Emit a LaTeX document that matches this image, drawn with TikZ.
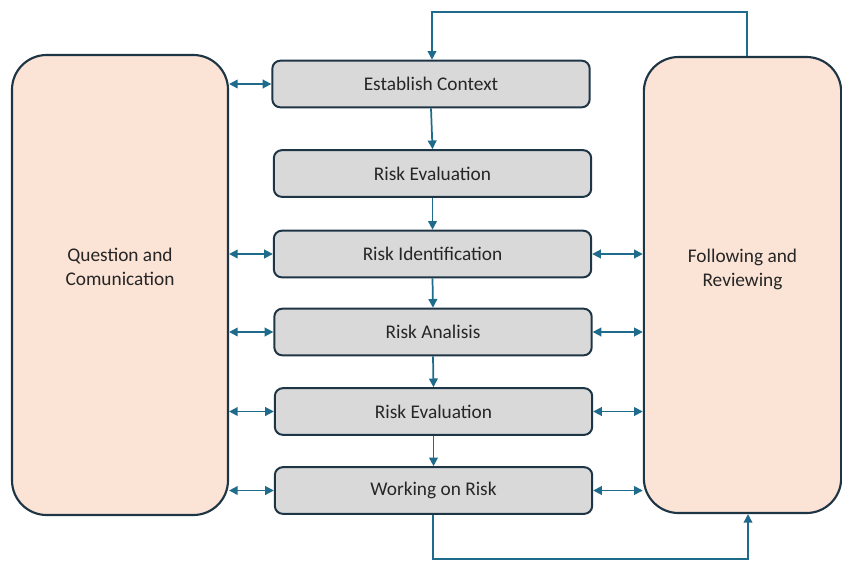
\documentclass[tikz,border=0pt]{standalone}
\usepackage{fontspec}
\setmainfont{Carlito}
\usetikzlibrary{arrows.meta}
\definecolor{peach}{HTML}{FBE3D6}
\definecolor{boxgray}{HTML}{D9D9D9}
\definecolor{edge}{HTML}{1E3545}
\definecolor{arrowc}{HTML}{1F6B8C}
\tikzset{
  big/.style={draw=edge, line width=1.6pt, fill=peach, rounded corners=26pt},
  stepbox/.style={draw=edge, line width=1.5pt, fill=boxgray, rounded corners=6pt, minimum width=238pt, minimum height=35pt, font=\fontsize{14.5}{17}\selectfont, text=black!85},
  flow/.style={draw=arrowc, line width=1.3pt, -{Triangle[length=6.5pt,width=6.5pt]}},
  both/.style={draw=arrowc, line width=1.3pt, {Triangle[length=6.5pt,width=6.5pt]}-{Triangle[length=6.5pt,width=6.5pt]}},
  lbl/.style={font=\fontsize{14.5}{18}\selectfont, align=center, text=black!85}
}
\begin{document}
\begin{tikzpicture}[x=0.75pt,y=-0.75pt]
\useasboundingbox (0,0) rectangle (842,562);
% big side boxes
\node[big, minimum width=162pt, minimum height=345pt] (L) at (120,285) {};
\node[big, minimum width=148pt, minimum height=342pt] (R) at (742.5,285) {};
\node[lbl] at (L.center) [yshift=13.5pt] {Question and\\Comunication};
\node[lbl] at (R.center) [yshift=12pt] {Following and\\Reviewing};
% steps
\node[stepbox] (s1) at (431,84) {Establish Context};
\node[stepbox] (s2) at (432.5,173.5) {Risk Evaluation};
\node[stepbox] (s3) at (432.5,254) {Risk Identification};
\node[stepbox] (s4) at (433,332) {Risk Analisis};
\node[stepbox] (s5) at (433.5,411.5) {Risk Evaluation};
\node[stepbox] (s6) at (433.5,490.5) {Working on Risk};
% vertical flow
\draw[flow] (s1.south) -- (s2.north);
\draw[flow] (s2.south) -- (s3.north);
\draw[flow] (s3.south) -- (s4.north);
\draw[flow] (s4.south) -- (s5.north);
\draw[flow] (s5.south) -- (s6.north);
% left double arrows
\foreach \s in {s1,s3,s4,s5,s6}{
  \draw[both] (\s.west) -- (L.east |- \s.west);
}
% right double arrows
\foreach \s in {s3,s4,s5,s6}{
  \draw[both] (\s.east) -- (R.west |- \s.east);
}
% loops
\coordinate (tR) at (747,12);
\coordinate (tL) at (432,12);
\draw[flow] (R.north -| tR) -- (tR) -- (tL) -- (s1.north -| tL);
\coordinate (bL) at (433,559);
\coordinate (bR) at (748,559);
\draw[flow] (s6.south -| bL) -- (bL) -- (bR) -- (R.south -| bR);
\end{tikzpicture}
\end{document}
